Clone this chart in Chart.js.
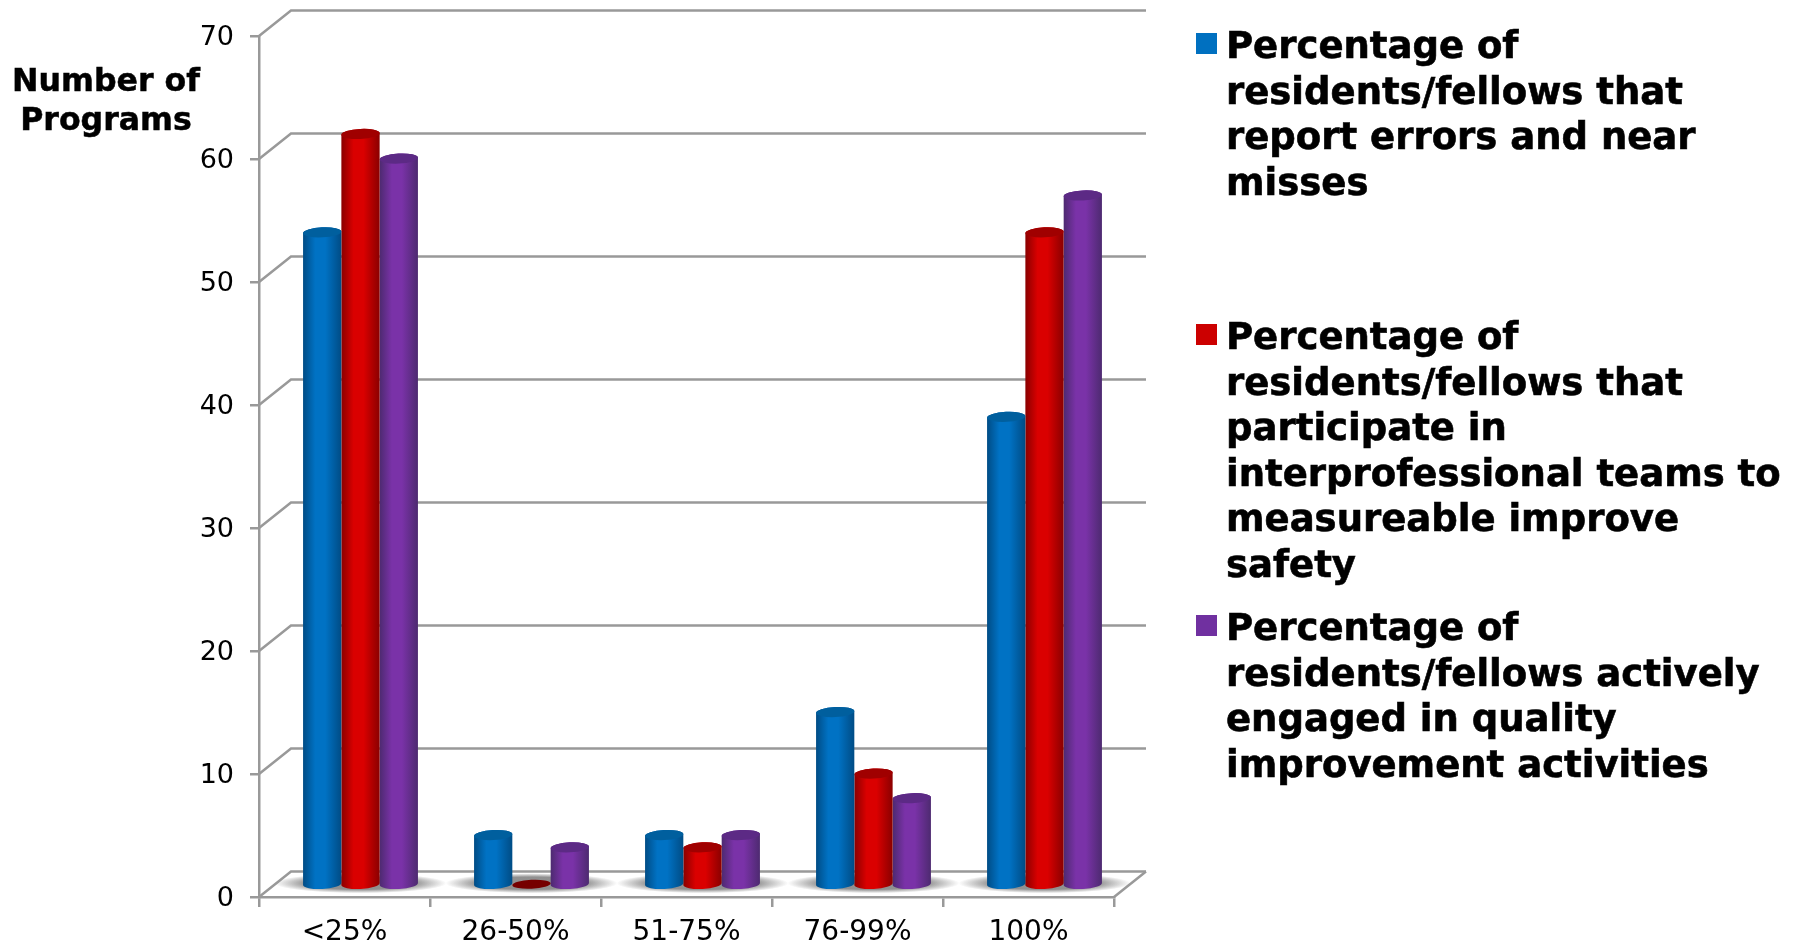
<!DOCTYPE html>
<html>
<head>
    <title>Number of Programs</title>
    <script src="https://cdn.jsdelivr.net/npm/chart.js"></script>
    <style>
        body {
            margin: 0;
            background: white;
            font-family: "DejaVu Sans", sans-serif;
        }
        #wrap {
            position: relative;
            width: 1798px;
            height: 947px;
            overflow: hidden;
        }
        #axisTitle {
            position: absolute;
            left: 0;
            top: 61px;
            width: 212px;
            text-align: center;
            font-weight: bold;
            font-size: 31.6px;
            line-height: 39px;
            -webkit-text-stroke: 0.5px black;
        }
        .legend-item {
            position: absolute;
            left: 1226px;
            font-weight: bold;
            font-size: 37px;
            line-height: 45.5px;
            white-space: nowrap;
            -webkit-text-stroke: 0.6px black;
        }
        .legend-item i {
            position: absolute;
            left: -30px;
            top: 10px;
            width: 21px;
            height: 21px;
        }
    </style>
</head>
<body>
<div id="wrap">
    <canvas id="chart" width="1798" height="947"></canvas>
    <div id="axisTitle">Number of<br>Programs</div>
    <div id="legend"></div>
</div>
<script>
    const categories = ['<25%', '26-50%', '51-75%', '76-99%', '100%'];
    const reportErrors = [53, 4, 4, 14, 38];
    const interprofessional = [61, 0, 3, 9, 53];
    const qualityImprovement = [59, 3, 4, 7, 56];

    const seriesNames = [
        ['Percentage of', 'residents/fellows that', 'report errors and near', 'misses'],
        ['Percentage of', 'residents/fellows that', 'participate in', 'interprofessional teams to', 'measureable improve', 'safety'],
        ['Percentage of', 'residents/fellows actively', 'engaged in quality', 'improvement activities']
    ];
    const legendTops = [23, 314, 605];

    // edge, centre, lid
    const shades = [
        ['#004c85', '#0072c4', '#005f9e'],
        ['#8a0000', '#da0000', '#a00000'],
        ['#4d2a70', '#7a32a8', '#5c2a85']
    ];
    const swatches = ['#0070c0', '#cc0000', '#7030a0'];

    const AXIS_GREY = '#999999';
    const DEPTH_X = 32, DEPTH_Y = -25.5;   // wall offset from the front plane

    // HTML legend, wrapped by hand
    const legend = document.getElementById('legend');
    seriesNames.forEach((lines, i) => {
        const item = document.createElement('div');
        item.className = 'legend-item';
        item.style.top = legendTops[i] + 'px';
        item.innerHTML = '<i style="background:' + swatches[i] + '"></i>' + lines.join('<br>');
        legend.appendChild(item);
    });

    function drawWalls(chart) {
        const { ctx, scales: { x, y } } = chart;
        const left = x.left, right = x.right;
        ctx.save();
        ctx.strokeStyle = AXIS_GREY;
        ctx.lineWidth = 2.5;
        y.ticks.forEach(t => {
            const py = y.getPixelForValue(t.value);
            ctx.beginPath();
            ctx.moveTo(left, py);
            ctx.lineTo(left + DEPTH_X, py + DEPTH_Y);
            ctx.lineTo(right + DEPTH_X, py + DEPTH_Y);
            ctx.stroke();
        });
        // right edge of the floor
        const p0 = y.getPixelForValue(0);
        ctx.beginPath();
        ctx.moveTo(right, p0);
        ctx.lineTo(right + DEPTH_X, p0 + DEPTH_Y);
        ctx.stroke();

        // soft shadow on the floor under each group
        categories.forEach((c, i) => {
            const cx = x.getPixelForValue(i) + DEPTH_X / 2;
            const cy = p0 + DEPTH_Y / 2 - 1;
            ctx.save();
            ctx.beginPath();
            ctx.moveTo(left + 2, p0 - 2);
            ctx.lineTo(left + DEPTH_X, p0 + DEPTH_Y + 1.5);
            ctx.lineTo(right + DEPTH_X - 2, p0 + DEPTH_Y + 1.5);
            ctx.lineTo(right, p0 - 2);
            ctx.closePath();
            ctx.clip();
            ctx.translate(cx, cy);
            ctx.scale(86, 10);
            const g = ctx.createRadialGradient(0, 0, 0.62, 0, 0, 1);
            g.addColorStop(0, 'rgba(125,125,125,0.85)');
            g.addColorStop(1, 'rgba(125,125,125,0)');
            ctx.fillStyle = g;
            ctx.beginPath();
            ctx.arc(0, 0, 1, 0, Math.PI * 2);
            ctx.fill();
            ctx.restore();
        });
        ctx.restore();
    }

    function drawCylinder(ctx, el, value, colors) {
        const rx = el.width / 2, ry = 5, tilt = -0.05;
        const cx = el.x + DEPTH_X / 2;
        const top = el.y + DEPTH_Y / 2, bottom = el.base + DEPTH_Y / 2 + 1;
        ctx.save();
        if (value > 0) {
            const g = ctx.createLinearGradient(cx - rx, 0, cx + rx, 0);
            g.addColorStop(0, colors[0]);
            g.addColorStop(0.32, colors[1]);
            g.addColorStop(0.58, colors[1]);
            g.addColorStop(1, colors[0]);
            ctx.fillStyle = g;
            ctx.beginPath();
            ctx.ellipse(cx, bottom, rx, ry, tilt, Math.PI, 0, true);
            ctx.ellipse(cx, top, rx, ry, tilt, 0, Math.PI, true);
            ctx.closePath();
            ctx.fill();
            ctx.fillStyle = colors[2];
        } else {
            ctx.fillStyle = '#760000';
        }
        ctx.beginPath();
        ctx.ellipse(cx, top, rx, value > 0 ? ry : ry - 0.5, tilt, 0, Math.PI * 2);
        ctx.fill();
        ctx.restore();
    }

    // replaces the flat bars with cylinders standing on the floor
    const cylinders = {
        id: 'cylinders',
        beforeDatasetsDraw(chart) {
            drawWalls(chart);
        },
        beforeDatasetDraw(chart, args) {
            const ds = chart.data.datasets[args.index];
            args.meta.data.forEach((el, i) => {
                drawCylinder(chart.ctx, el, ds.data[i], shades[args.index]);
            });
            return false;
        }
    };

    new Chart(document.getElementById('chart').getContext('2d'), {
        type: 'bar',
        data: {
            labels: categories,
            datasets: [
                { label: seriesNames[0].join(' '), data: reportErrors, backgroundColor: swatches[0] },
                { label: seriesNames[1].join(' '), data: interprofessional, backgroundColor: swatches[1] },
                { label: seriesNames[2].join(' '), data: qualityImprovement, backgroundColor: swatches[2] }
            ]
        },
        options: {
            responsive: false,
            animation: false,
            layout: { padding: { top: 36, right: 684, left: 0, bottom: 0 } },
            datasets: { bar: { barPercentage: 1, categoryPercentage: 0.672 } },
            plugins: { legend: { display: false }, tooltip: { enabled: false } },
            scales: {
                x: {
                    afterFit: s => { s.height = 50; },
                    grid: { drawOnChartArea: false, color: AXIS_GREY, lineWidth: 2.5, tickLength: 10 },
                    border: { color: AXIS_GREY, width: 2.5 },
                    ticks: { color: '#000', font: { family: '"DejaVu Sans"', size: 28 }, padding: 9, maxRotation: 0 }
                },
                y: {
                    min: 0,
                    max: 70,
                    afterFit: s => { s.width = 259; },
                    grid: { drawOnChartArea: false, color: AXIS_GREY, lineWidth: 2.5, tickLength: 9 },
                    border: { color: AXIS_GREY, width: 2.5 },
                    ticks: { color: '#000', font: { family: '"DejaVu Sans"', size: 27 }, stepSize: 10, padding: 16, labelOffset: 1.5 }
                }
            }
        },
        plugins: [cylinders]
    });
</script>
</body>
</html>
